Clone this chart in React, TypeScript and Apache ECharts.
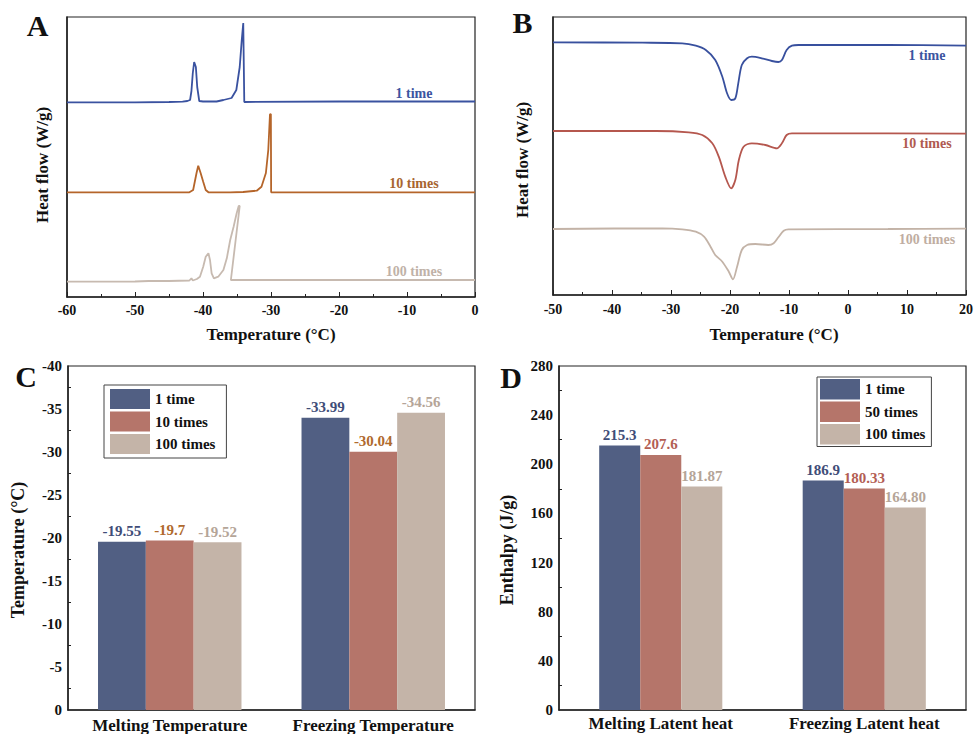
import React, { useEffect, useRef } from "react";
import * as echarts from "echarts";

const SERIF = '"Liberation Serif", "Times New Roman", serif';

// Panel A: DSC cooling curves (Temperature °C, heat flow arbitrary units with offsets)
const curveA1: number[][] = [
  [-60, 19.47], [-50, 19.47], [-45, 19.5], [-43, 19.53], [-42.3, 19.6], [-41.9, 19.7],
  [-41.7, 20.6], [-41.5, 22.4], [-41.3, 23.5], [-41.05, 23.0], [-40.85, 21.0], [-40.55, 19.6],
  [-40, 19.55], [-38, 19.55], [-37, 19.7], [-35.8, 19.9], [-35.1, 20.7], [-34.6, 23.0],
  [-34.3, 25.7], [-34.08, 27.4], [-33.98, 27.4], [-33.93, 19.5], [-20, 19.55], [0, 19.55],
];
const curveA10: number[][] = [
  [-60, 10.47], [-45, 10.47], [-42, 10.47], [-41.45, 10.7], [-40.95, 12.4], [-40.7, 13.13],
  [-40.35, 12.4], [-39.97, 11.53], [-39.6, 10.7], [-39.2, 10.47], [-36, 10.47], [-34.1, 10.5],
  [-32.1, 10.63], [-31.4, 11.03], [-30.75, 12.4], [-30.4, 14.7], [-30.15, 18.27], [-30.02, 18.3],
  [-29.98, 10.47], [0, 10.47],
];
const curveA100: number[][] = [
  [-60, 1.53], [-50, 1.55], [-48, 1.6], [-45, 1.6], [-42, 1.65], [-41.7, 1.87], [-41.5, 1.65],
  [-40.9, 1.8], [-40.45, 2.03], [-39.97, 3.03], [-39.6, 4.03], [-39.2, 4.37], [-38.97, 3.7],
  [-38.73, 2.37], [-38.4, 1.87], [-37.76, 2.03], [-37.0, 2.7], [-36.5, 3.87], [-36.0, 5.7],
  [-35.5, 7.03], [-35.05, 8.37], [-34.75, 9.1], [-34.6, 9.1], [-35.9, 1.7], [-20, 1.7], [0, 1.7],
];

// Panel B: DSC heating curves
const curveB1: number[][] = [
  [-50, 25.27], [-34.8, 25.23], [-28.1, 25.17], [-25.8, 24.93], [-24.1, 24.5], [-22.5, 23.5],
  [-21.3, 21.83], [-20.5, 20.17], [-19.8, 19.5], [-19.1, 19.67], [-18.6, 21.17], [-18.0, 23.0],
  [-17.1, 23.67], [-16.3, 23.83], [-14.6, 23.67], [-12.9, 23.4], [-11.8, 23.3], [-11.2, 23.5],
  [-10.4, 24.5], [-9.5, 24.93], [-8.4, 25.0], [6.8, 25.0], [20, 24.93],
];
const curveB10: number[][] = [
  [-50, 16.4], [-32.6, 16.4], [-27.0, 16.27], [-24.7, 16.0], [-23.0, 15.17], [-21.9, 13.83],
  [-20.8, 11.83], [-19.8, 10.67], [-19.1, 11.5], [-18.5, 13.5], [-17.7, 14.83], [-16.3, 15.17],
  [-14.0, 15.0], [-12.05, 14.67], [-11.2, 15.17], [-10.4, 16.0], [-9.5, 16.17], [-3.3, 16.17],
  [20, 16.13],
];
const curveB100: number[][] = [
  [-50, 6.6], [-31.5, 6.67], [-28.1, 6.57], [-25.8, 6.33], [-24.4, 5.83], [-23.3, 4.83],
  [-22.5, 4.0], [-21.3, 3.33], [-20.2, 2.33], [-19.5, 1.57], [-18.8, 2.83], [-18.0, 4.5],
  [-17.1, 5.0], [-15.7, 5.1], [-13.5, 5.0], [-12.6, 5.17], [-11.8, 5.77], [-10.9, 6.43],
  [-10.1, 6.57], [6.8, 6.6], [20, 6.63],
];

// Panel C: temperatures
const categoriesC = ["Melting Temperature", "Freezing Temperature"];
const c1Time = [-19.55, -33.99];
const c10Times = [-19.7, -30.04];
const c100Times = [-19.52, -34.56];
const legendC = ["1 time", "10 times", "100 times"];

// Panel D: enthalpy (kept as strings to preserve printed decimals)
const categoriesD = ["Melting Latent heat", "Freezing Latent heat"];
const d1Time = ["215.3", "186.9"];
const d50Times = ["207.6", "180.33"];
const d100Times = ["181.87", "164.80"];
const legendD = ["1 time", "50 times", "100 times"];

const BAR_BLUE = "#515f83";
const BAR_RED = "#b5756a";
const BAR_TAN = "#c4b4a8";

export default function App() {
  const ref = useRef<HTMLDivElement>(null);
  useEffect(() => {
    document.body.style.margin = "0";
    if (!ref.current) return;
    const chart = echarts.init(ref.current, undefined, { renderer: "svg" });

    const axisLine = { show: true, onZero: false, lineStyle: { color: "#222", width: 1.5 } };
    const tickLabel = (size: number, margin: number) => ({
      fontFamily: SERIF, fontWeight: "bold" as const, fontSize: size, color: "#111", margin,
    });
    const gridBase = { show: true, borderColor: "#222", borderWidth: 1.2, backgroundColor: "transparent" };

    const lineSeries = (name: string, data: number[][], color: string, idx: number, smooth: number | boolean) => ({
      name, type: "line" as const, xAxisIndex: idx, yAxisIndex: idx, data, symbol: "none",
      smooth, lineStyle: { color, width: 1.8 }, itemStyle: { color }, silent: true,
    });

    const barSeries = (name: string, data: (number | string)[], color: string, labelColor: string, idx: number, gap: string) => ({
      name, type: "bar" as const, xAxisIndex: idx, yAxisIndex: idx,
      data: data.map((v) => (typeof v === "string" ? parseFloat(v) : v)),
      barGap: "0%", barCategoryGap: gap,
      itemStyle: { color },
      label: {
        show: true, position: "top", distance: 3, color: labelColor,
        fontFamily: SERIF, fontWeight: "bold", fontSize: 15,
        formatter: (p: any) => String(data[p.dataIndex]),
      },
    });

    const title = (text: string, x: number, y: number, size: number, rotate = false, fill = "#111") => ({
      type: "text", x, y, rotation: rotate ? Math.PI / 2 : 0, silent: true,
      style: { text, font: `bold ${size}px ${SERIF}`, fill, align: "center", verticalAlign: "middle" },
    });

    chart.setOption({
      animation: false,
      backgroundColor: "#fff",
      grid: [
        { ...gridBase, left: 67, top: 17, width: 408, height: 280 },
        { ...gridBase, left: 553, top: 17, width: 415, height: 278 },
        { ...gridBase, left: 68, top: 366, width: 407, height: 344 },
        { ...gridBase, left: 559, top: 366, width: 407, height: 344 },
      ],
      xAxis: [
        {
          gridIndex: 0, type: "value", min: -60, max: 0, interval: 10, axisLine,
          axisTick: { inside: true, length: 5, lineStyle: { color: "#222" } },
          minorTick: { show: true, splitNumber: 2, length: 3, lineStyle: { color: "#222" } },
          axisLabel: tickLabel(14, 6), splitLine: { show: false },
        },
        {
          gridIndex: 1, type: "value", min: -50, max: 20, interval: 10, axisLine,
          axisTick: { inside: true, length: 5, lineStyle: { color: "#222" } },
          minorTick: { show: true, splitNumber: 2, length: 3, lineStyle: { color: "#222" } },
          axisLabel: tickLabel(14, 7), splitLine: { show: false },
        },
        {
          gridIndex: 2, type: "category", data: categoriesC, axisLine,
          axisTick: { alignWithLabel: true, inside: true, length: 6, lineStyle: { color: "#222" } },
          axisLabel: { ...tickLabel(17, 7), interval: 0 },
        },
        {
          gridIndex: 3, type: "category", data: categoriesD, axisLine,
          axisTick: { alignWithLabel: true, inside: true, length: 6, lineStyle: { color: "#222" } },
          axisLabel: { ...tickLabel(17, 5), interval: 0 },
        },
      ],
      yAxis: [
        { gridIndex: 0, type: "value", min: 0, max: 28, axisLine, axisTick: { show: false }, axisLabel: { show: false }, splitLine: { show: false } },
        { gridIndex: 1, type: "value", min: 0, max: 27.8, axisLine, axisTick: { show: false }, axisLabel: { show: false }, splitLine: { show: false } },
        {
          gridIndex: 2, type: "value", inverse: true, min: -40, max: 0, interval: 5, axisLine,
          axisTick: { inside: true, length: 4, lineStyle: { color: "#222" } },
          minorTick: { show: true, splitNumber: 2, length: 3, lineStyle: { color: "#222" } },
          axisLabel: tickLabel(15, 6), splitLine: { show: false },
        },
        {
          gridIndex: 3, type: "value", min: 0, max: 280, interval: 40, axisLine,
          axisTick: { inside: true, length: 4, lineStyle: { color: "#222" } },
          minorTick: { show: true, splitNumber: 2, length: 3, lineStyle: { color: "#222" } },
          axisLabel: tickLabel(15, 6), splitLine: { show: false },
        },
      ],
      legend: [
        {
          orient: "vertical", left: 104, top: 385, data: legendC, icon: "rect",
          itemWidth: 40, itemHeight: 20, itemGap: 2.5, padding: [4, 11, 4, 6],
          borderColor: "#444", borderWidth: 1, selectedMode: false,
          textStyle: { fontFamily: SERIF, fontWeight: "bold", fontSize: 15, color: "#111" },
        },
        {
          orient: "vertical", left: 817, top: 377, data: legendD, icon: "rect",
          itemWidth: 40, itemHeight: 20.5, itemGap: 2, padding: [2, 6, 2, 3],
          borderColor: "#444", borderWidth: 1, selectedMode: false,
          textStyle: { fontFamily: SERIF, fontWeight: "bold", fontSize: 15, color: "#111" },
        },
      ],
      series: [
        lineSeries("A-1", curveA1, "#3a52a0", 0, false),
        lineSeries("A-10", curveA10, "#b5652a", 0, false),
        lineSeries("A-100", curveA100, "#c7bab0", 0, false),
        lineSeries("B-1", curveB1, "#38509e", 1, 0.3),
        lineSeries("B-10", curveB10, "#b5574e", 1, 0.3),
        lineSeries("B-100", curveB100, "#c3b3a7", 1, 0.3),
        barSeries("1 time", c1Time, BAR_BLUE, "#3f4d78", 2, "29.5%"),
        barSeries("10 times", c10Times, BAR_RED, "#b06a2e", 2, "29.5%"),
        barSeries("100 times", c100Times, BAR_TAN, "#b5a598", 2, "29.5%"),
        barSeries("1 time", d1Time, BAR_BLUE, "#3f4d78", 3, "39.5%"),
        barSeries("50 times", d50Times, BAR_RED, "#b35e54", 3, "39.5%"),
        barSeries("100 times", d100Times, BAR_TAN, "#b5a598", 3, "39.5%"),
      ],
      graphic: [
        title("A", 37.5, 25, 30),
        title("B", 522.5, 22.5, 30),
        title("C", 26, 376, 30),
        title("D", 511, 377, 30),
        title("Temperature (°C)", 271, 334, 17),
        title("Temperature (°C)", 774, 334, 17),
        title("Heat flow (W/g)", 42, 165, 17, true),
        title("Heat flow (W/g)", 522, 160, 17, true),
        title("Temperature (°C)", 18, 550, 18, true),
        title("Enthalpy (J/g)", 507, 550, 18, true),
        title("1 time", 414, 93, 14, false, "#3b55a0"),
        title("10 times", 414, 183, 14, false, "#a86530"),
        title("100 times", 414, 271, 14, false, "#bfb2a8"),
        title("1 time", 927, 55, 14, false, "#3b55a0"),
        title("10 times", 927, 143, 14, false, "#b05a50"),
        title("100 times", 927, 239, 14, false, "#bfaea2"),
      ],
    });
    return () => chart.dispose();
  }, []);
  return <div ref={ref} style={{ width: 976, height: 734 }} />;
}
